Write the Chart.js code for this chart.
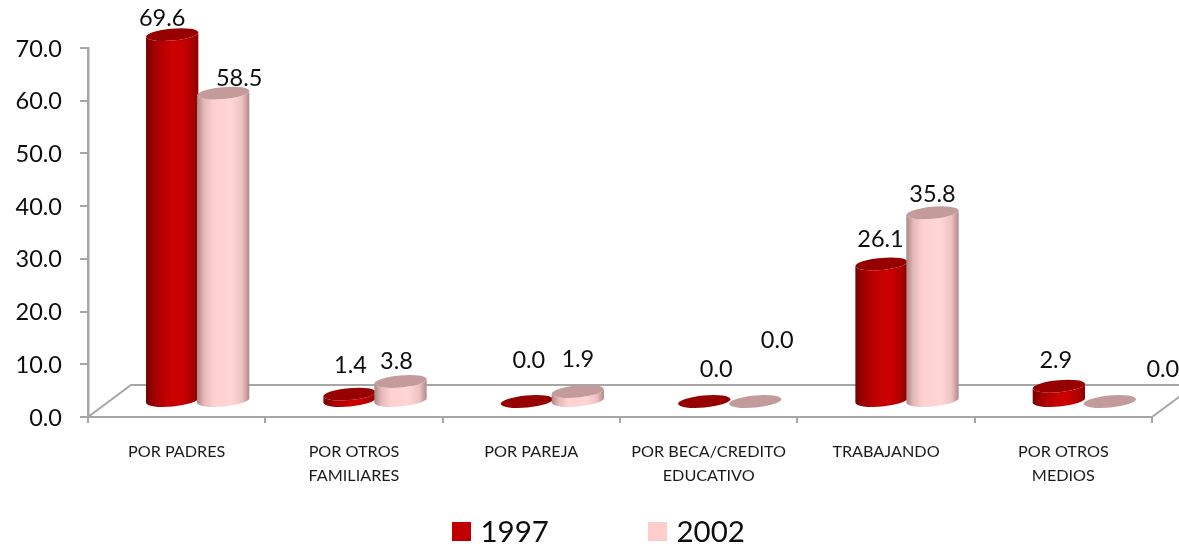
<!DOCTYPE html>
<html>
<head>
<meta charset="utf-8">
<title>Chart</title>
<script src="https://cdn.jsdelivr.net/npm/chart.js@4"></script>
<style>
  html, body { margin: 0; padding: 0; background: #fff; }
  canvas { display: block; }
</style>
</head>
<body>
<canvas id="chart" width="1179" height="544"></canvas>
<script>
const categories = [
  'POR PADRES',
  ['POR OTROS', 'FAMILIARES'],
  'POR PAREJA',
  ['POR BECA/CREDITO', 'EDUCATIVO'],
  'TRABAJANDO',
  ['POR OTROS', 'MEDIOS']
];
const values1997 = [69.6, 1.4, 0.0, 0.0, 26.1, 2.9];
const values2002 = [58.5, 3.8, 1.9, 0.0, 35.8, 0.0];
const yTicks = [0, 10, 20, 30, 40, 50, 60, 70];

const FONT = 'Lato, sans-serif';
const GREY = '#a6a6a6';

// hand placed data labels in the original: [dx, dy] from the top of the cylinder
const labelNudge = [
  [[-10, -16], [16, -14]],
  [[1, -28], [-4, -20]],
  [[2, -41], [0, -32]],
  [[12, -32], [22, -61]],
  [[-1, -24], [0, -18]],
  [[-3, -25], [53, -32]]
];

const looks = [
  {
    cap: '#960000',
    side: [[0, '#780000'], [0.2, '#a80000'], [0.45, '#c60000'], [0.65, '#cc0000'], [0.85, '#b20000'], [1, '#8c0000']]
  },
  {
    cap: '#c39b9b',
    side: [[0, '#a98686'], [0.14, '#e6baba'], [0.32, '#ffd0d0'], [0.65, '#ffd6d6'], [0.86, '#efc2c2'], [1, '#ac8a8a']]
  }
];

// the 3D floor: depth of the plane and where the cylinders stand in it
const DEPTH_X = 43, DEPTH_Y = 32;
const SHIFT_X = 21, SHIFT_Y = 15.5;
const RY = 6, TILT = -0.09;

function drawCylinder(ctx, bar, look) {
  const rx = bar.width / 2;
  const cx = bar.x + SHIFT_X;
  const yBase = bar.base - SHIFT_Y;
  const yTop = bar.y - SHIFT_Y;

  if (yBase - yTop > 0.5) {
    const g = ctx.createLinearGradient(cx - rx, 0, cx + rx, 0);
    look.side.forEach(s => g.addColorStop(s[0], s[1]));
    ctx.fillStyle = g;
    ctx.beginPath();
    ctx.ellipse(cx, yBase, rx, RY, TILT, 0, Math.PI);
    ctx.ellipse(cx, yTop, rx, RY, TILT, Math.PI, 0, true);
    ctx.closePath();
    ctx.fill();
  }

  ctx.fillStyle = look.cap;
  ctx.beginPath();
  ctx.ellipse(cx, yTop, rx, RY, TILT, 0, Math.PI * 2);
  ctx.fill();
}

const cylinders = {
  id: 'cylinders',
  beforeDatasetsDraw(chart) {
    const { ctx, scales: { x, y } } = chart;
    const y0 = y.getPixelForValue(0);

    // floor outline, behind everything
    ctx.save();
    ctx.strokeStyle = GREY;
    ctx.lineWidth = 2;
    ctx.beginPath();
    ctx.moveTo(x.left, y0);
    ctx.lineTo(x.left + DEPTH_X, y0 - DEPTH_Y);
    ctx.lineTo(x.right + DEPTH_X, y0 - DEPTH_Y);
    ctx.lineTo(x.right, y0);
    ctx.stroke();

    const metas = chart.data.datasets.map((_, i) => chart.getDatasetMeta(i));
    categories.forEach((_, c) => {
      metas.forEach((meta, s) => drawCylinder(ctx, meta.data[c], looks[s]));
    });

    // data labels
    ctx.fillStyle = '#0d0d0d';
    ctx.font = '23.5px ' + FONT;
    ctx.textAlign = 'center';
    ctx.textBaseline = 'middle';
    metas.forEach((meta, s) => {
      meta.data.forEach((bar, c) => {
        const n = labelNudge[c][s];
        const v = chart.data.datasets[s].data[c];
        ctx.fillText(v.toFixed(1), bar.x + SHIFT_X + n[0], bar.y - 16 + n[1]);
      });
    });

    // legend
    ctx.font = '29.5px ' + FONT;
    ctx.textAlign = 'left';
    const legendX = [452, 648];
    chart.data.datasets.forEach((ds, s) => {
      ctx.fillStyle = ds.backgroundColor;
      ctx.fillRect(legendX[s], 522, 19, 19);
      ctx.fillStyle = '#0d0d0d';
      ctx.fillText(ds.label, legendX[s] + 28.5, 532);
    });
    ctx.restore();
    return false;
  }
};

new Chart(document.getElementById('chart'), {
  type: 'bar',
  data: {
    labels: categories,
    datasets: [
      { label: '1997', data: values1997, backgroundColor: '#c00000' },
      { label: '2002', data: values2002, backgroundColor: '#ffcccc' }
    ]
  },
  options: {
    responsive: false,
    animation: false,
    layout: { padding: { top: 48, right: 27, left: 0, bottom: 0 } },
    datasets: { bar: { categoryPercentage: 0.575, barPercentage: 1.03 } },
    plugins: { legend: { display: false }, tooltip: { enabled: false } },
    scales: {
      x: {
        afterFit: s => { s.height = 127; },
        border: { color: GREY, width: 2 },
        grid: { color: GREY, lineWidth: 2, drawOnChartArea: false, tickLength: 6 },
        ticks: {
          color: '#1a1a1a',
          padding: 17,
          maxRotation: 0,
          autoSkip: false,
          font: { family: FONT, size: 16.2, lineHeight: 1.48 }
        }
      },
      y: {
        min: 0,
        max: 70,
        afterFit: s => { s.width = 88; },
        afterBuildTicks: s => { s.ticks = yTicks.map(v => ({ value: v })); },
        border: { color: GREY, width: 2.5 },
        grid: { color: GREY, lineWidth: 2, drawOnChartArea: false, tickLength: 8 },
        ticks: {
          color: '#0d0d0d',
          padding: 18,
          labelOffset: 1,
          callback: v => v.toFixed(1),
          font: { family: FONT, size: 23.5 }
        }
      }
    }
  },
  plugins: [cylinders]
});
</script>
</body>
</html>
